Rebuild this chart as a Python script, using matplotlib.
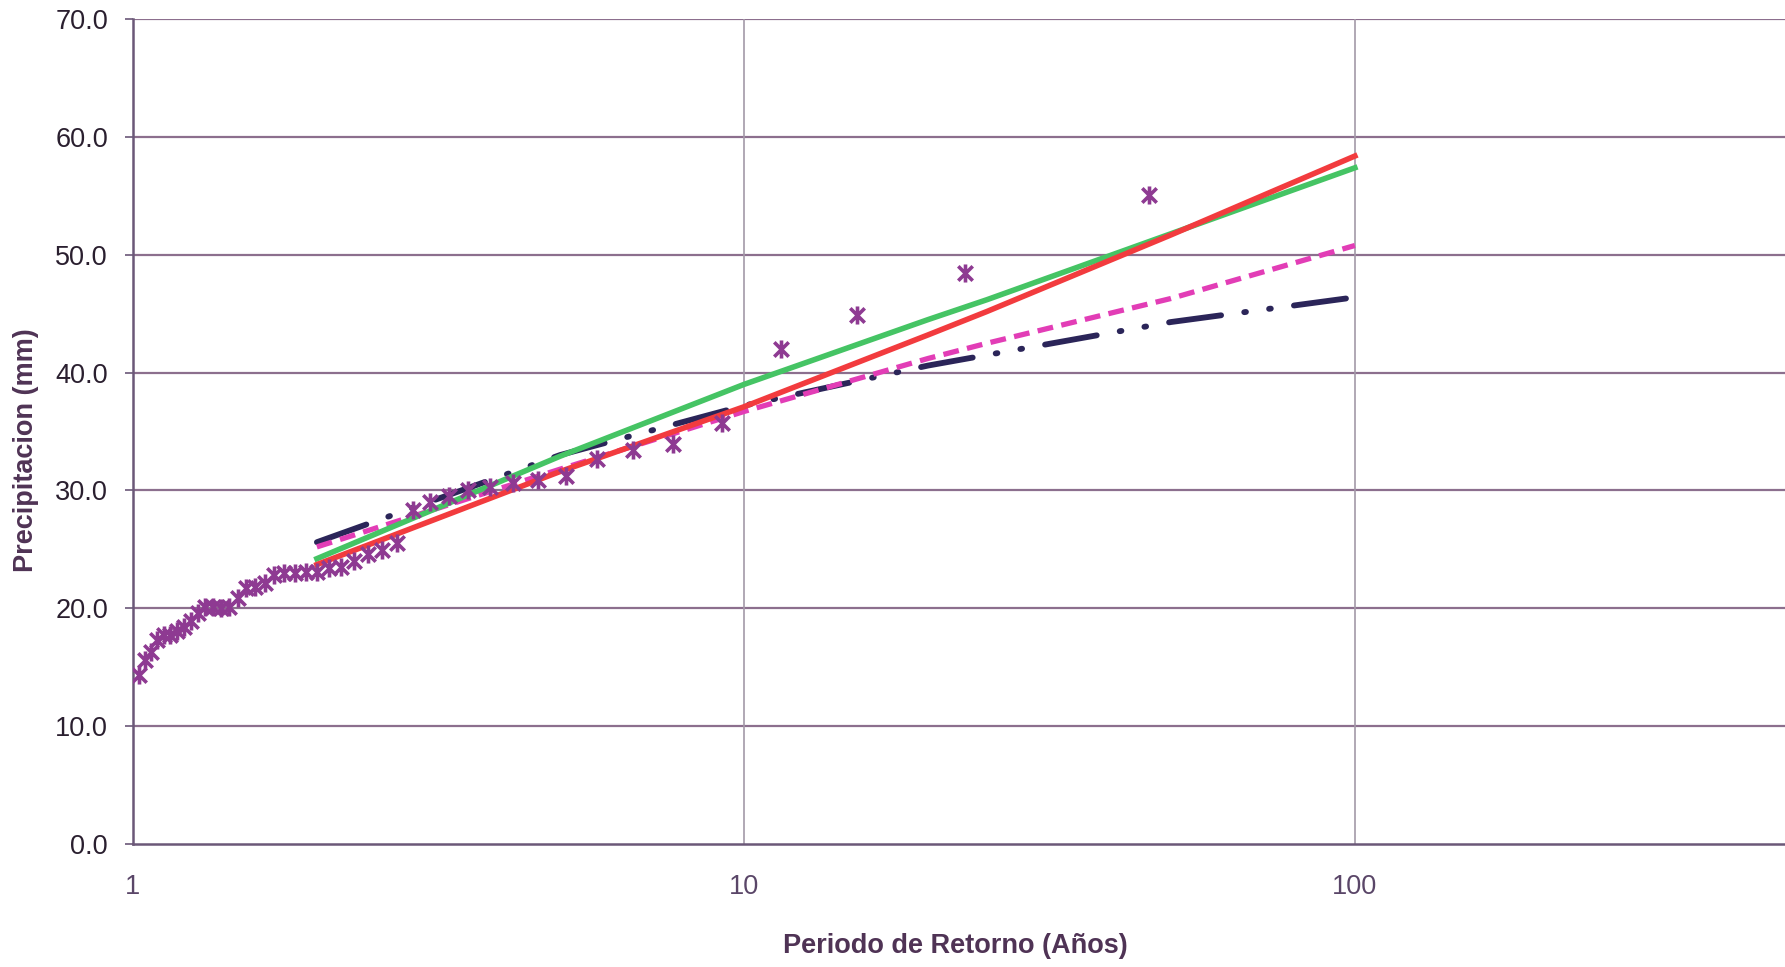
import matplotlib
matplotlib.use("Agg")
import matplotlib.pyplot as plt
from matplotlib.path import Path
import numpy as np

# ---------------- data ----------------
# observed maxima, sorted (Weibull plotting position T = (n+1)/m, n = 45)
obs_rank = list(range(1, 46))
obs_T = [46.0 / m for m in obs_rank]
obs_P = [55.1, 48.5, 44.9, 42.0, 35.7, 33.9, 33.4, 32.7, 31.2, 30.9,
         30.6, 30.3, 30.0, 29.5, 29.0, 28.3, 25.5, 24.9, 24.6, 24.0,
         23.5, 23.4, 23.1, 23.1, 23.0, 23.0, 22.8, 22.1, 21.8, 21.7,
         20.9, 20.1, 20.0, 20.1, 20.1, 19.6, 18.9, 18.4, 18.1, 17.7,
         17.7, 17.3, 16.3, 15.6, 14.3]

fit_T = [2, 5, 10, 20, 25, 50, 100]
red_P = [23.7, 31.6, 37.1, 43.2, 45.2, 51.7, 58.4]
green_P = [24.2, 32.9, 39.0, 44.5, 46.2, 51.8, 57.4]
magenta_P = [25.2, 31.8, 36.7, 41.2, 42.5, 46.3, 50.8]
navy_P = [25.6, 33.0, 37.2, 40.6, 41.5, 44.3, 46.4]

y_ticks = [0, 10, 20, 30, 40, 50, 60, 70]
x_ticks = [1, 10, 100]

# ---------------- figure ----------------
plt.rcParams['font.family'] = ['Liberation Sans', 'DejaVu Sans']
fig = plt.figure(figsize=(17.85, 9.67), dpi=100)
ax = fig.add_axes([0.0745, 0.1276, 0.9255, 0.8523])

ax.set_xscale('log')
ax.set_xlim(1, 10 ** 2.704)
ax.set_ylim(0, 70)

# grid
for yv in y_ticks[1:]:
    ax.axhline(yv, color='#8c6f8e', lw=1.6, zorder=1)
for xv in x_ticks[1:]:
    ax.axvline(xv, color='#a399a8', lw=1.2, zorder=1)

# fitted distributions
ax.plot(fit_T, navy_P, color='#2b2559', lw=4.2, solid_capstyle='round',
        dash_capstyle='round', dashes=(9, 4, 0.3, 4, 0.3, 4), zorder=3)
ax.plot(fit_T, magenta_P, color='#e23db6', lw=3.8, dashes=(3.0, 1.6), zorder=3)
ax.plot(fit_T, green_P, color='#45c464', lw=4.0, zorder=4)
ax.plot(fit_T, red_P, color='#f23b3e', lw=4.0, zorder=4)

# observed data (Excel-like star marker: x with vertical bar)
star = Path([(-1, -1), (1, 1), (-1, 1), (1, -1), (0, -1.25), (0, 1.25)],
            [Path.MOVETO, Path.LINETO, Path.MOVETO, Path.LINETO,
             Path.MOVETO, Path.LINETO])
ax.plot(obs_T, obs_P, linestyle='none', marker=star, markersize=13,
        markeredgewidth=2.6, markeredgecolor='#8e3a92', markerfacecolor='none',
        zorder=5)

# axes styling
ax.spines['right'].set_visible(False)
ax.spines['top'].set_visible(False)
for s in ('left', 'bottom'):
    ax.spines[s].set_color('#6b5878')
    ax.spines[s].set_linewidth(1.8)

ax.set_yticks(y_ticks)
ax.set_yticklabels([f"{v:.1f}" for v in y_ticks])
ax.set_xticks(x_ticks)
ax.set_xticklabels([str(v) for v in x_ticks])
ax.xaxis.set_minor_locator(matplotlib.ticker.NullLocator())
ax.tick_params(axis='y', length=6, width=1.2, color='#6b5878', pad=12,
               labelsize=19.5, labelcolor='#2a1f2f')
ax.tick_params(axis='x', length=0, pad=22, labelsize=19.5, labelcolor='#5a4668')

ax.set_xlabel('Periodo de Retorno (Años)', fontsize=19.5, fontweight='bold',
              color='#4f3355')
ax.set_ylabel('Precipitacion (mm)', fontsize=19.5, fontweight='bold',
              color='#4f3355')
ax.xaxis.set_label_coords(0.498, -0.108)
ax.yaxis.set_label_coords(-0.057, 0.478)
ax.set_facecolor('white')
fig.patch.set_facecolor('white')

fig.savefig('out.png', dpi=100)
